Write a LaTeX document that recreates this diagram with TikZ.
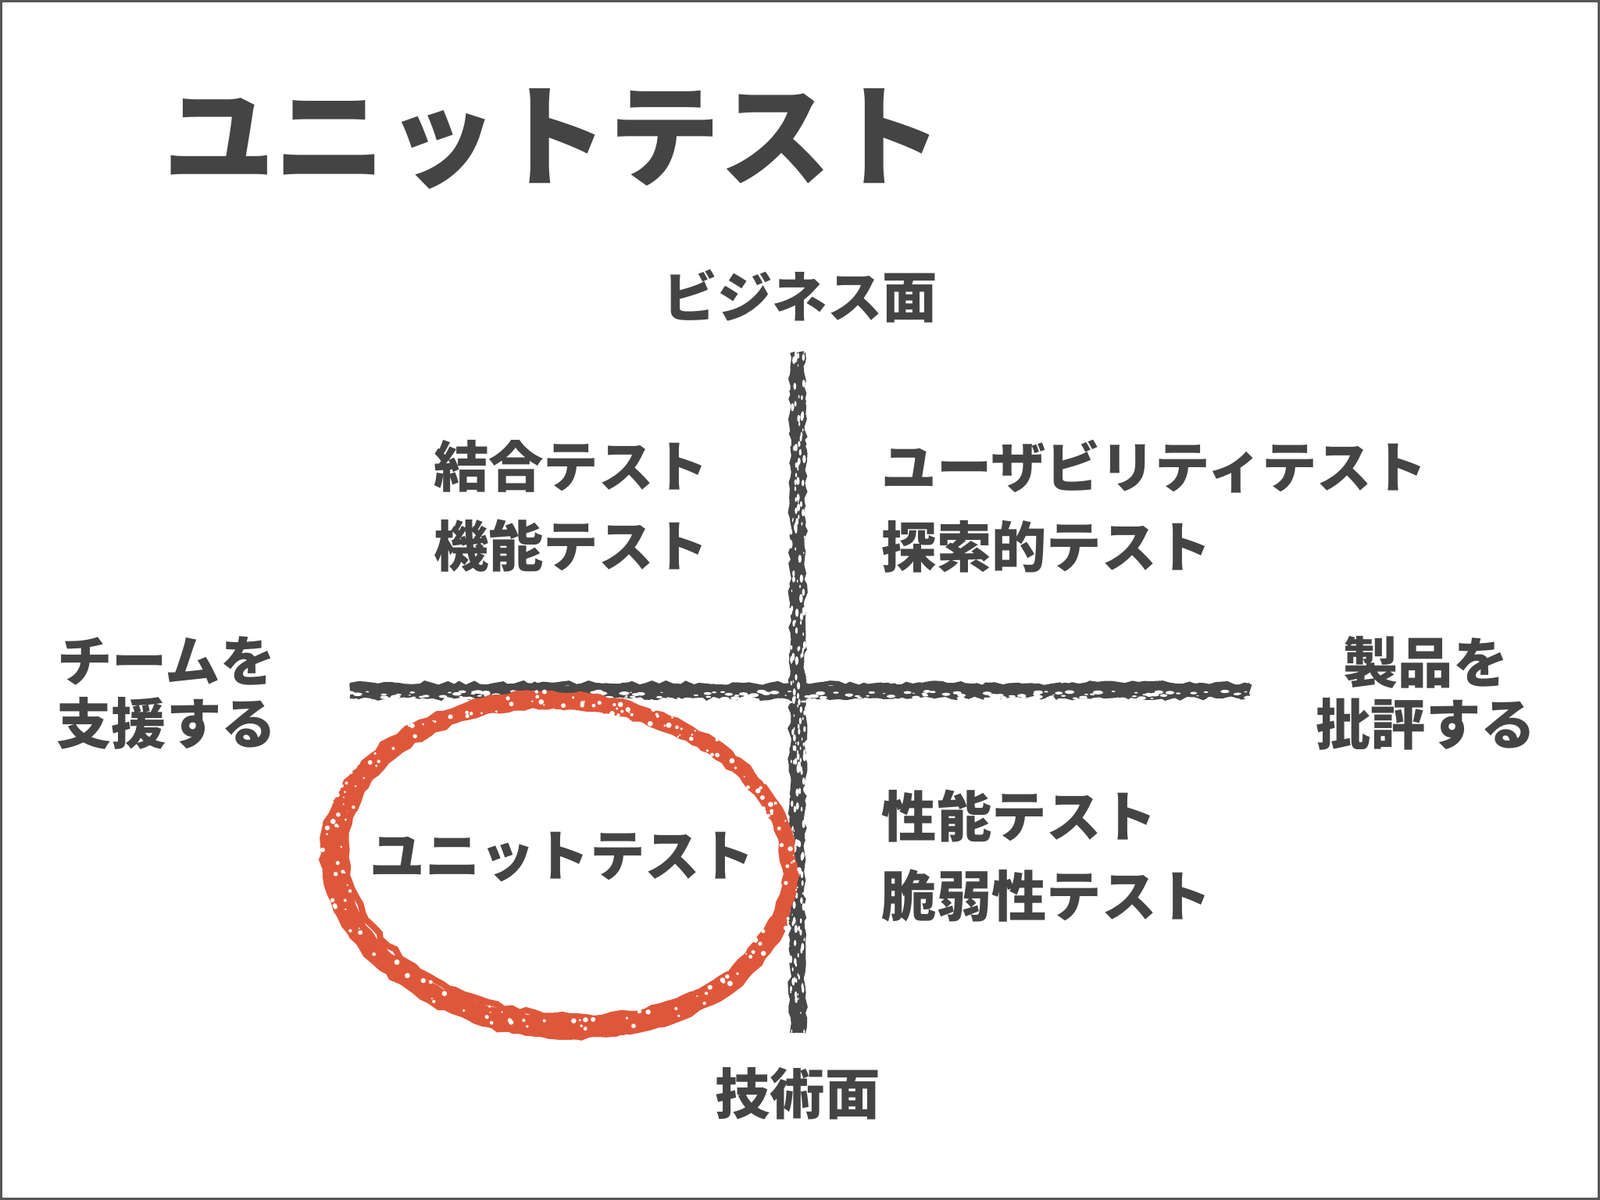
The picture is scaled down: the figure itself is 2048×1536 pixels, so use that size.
\documentclass[tikz,border=0pt]{standalone}
\usepackage{fontspec}
\newfontfamily\jp{Noto Sans CJK JP}
\usetikzlibrary{decorations.pathmorphing}
\definecolor{ink}{HTML}{444444}
\definecolor{chalk}{HTML}{484848}
\definecolor{redchalk}{HTML}{DF573A}
\definecolor{frame}{HTML}{555555}
\begin{document}
\begin{tikzpicture}[x=0.01cm,y=-0.01cm,
  lbl/.style={font=\jp\bfseries\fontsize{20}{29}\selectfont, text=ink, inner sep=0pt},
  side/.style={font=\jp\bfseries\fontsize{20}{22.5}\selectfont, text=ink, inner sep=0pt, align=center},
  ttl/.style={font=\jp\bfseries\fontsize{40.5}{44}\selectfont, text=ink, inner sep=0pt},
  chalkstroke/.style={chalk, line cap=butt, decorate, decoration={random steps, segment length=2.5pt, amplitude=0.8pt}},
  redstroke/.style={redchalk, line cap=round, decorate, decoration={random steps, segment length=3pt, amplitude=0.7pt}}]
\useasboundingbox (0,0) rectangle (2048,1536);
\fill[white] (0,0) rectangle (2048,1536);
\draw[frame, line width=0.03cm] (1.5,1.5) rectangle (2046.5,1534.5);

% title
\node[ttl] (title) at (708,178) {ユニットテスト};

% axis labels
\node[lbl] (biz) at (1024,379) {ビジネス面};
\node[lbl] (tech) at (1021,1400) {技術面};
\node[side] (team) at (213,887) {チームを\\支援する};
\node[side] (prod) at (1825,887) {製品を\\批評する};

% quadrant labels
\node[lbl, align=center] (q1) at (731,648) {結合テスト\\機能テスト};
\node[lbl, align=left, anchor=west] (q2) at (1128,648) {ユーザビリティテスト\\探索的テスト};
\node[lbl, align=left, anchor=west] (q3) at (1128,1096) {性能テスト\\脆弱性テスト};

% axes
\coordinate (vt) at (1021,451);
\coordinate (vb) at (1021,1322);
\coordinate (hl) at (448,884);
\coordinate (hr) at (1600,884);

\draw[chalkstroke, line width=0.16cm] (hl) -- (hr);
\draw[chalkstroke, line width=0.06cm] ([yshift=0.07cm]hl) -- ([yshift=0.07cm]hr);
\draw[chalkstroke, line width=0.06cm] ([yshift=-0.07cm]hl) -- ([yshift=-0.07cm]hr);
\draw[chalkstroke, line width=0.16cm] (vt) -- (vb);
\draw[chalkstroke, line width=0.06cm] ([xshift=0.07cm]vt) -- ([xshift=0.07cm]vb);
\draw[chalkstroke, line width=0.06cm] ([xshift=-0.07cm]vt) -- ([xshift=-0.07cm]vb);

\pgfmathsetseed{7}
\foreach \i in {1,...,240}{
  \pgfmathsetmacro\px{448+1152*rnd}
  \pgfmathsetmacro\py{884+5+14*(rnd-0.3)}
  \pgfmathsetmacro\rr{0.3+0.9*rnd}
  \fill[white] (\px,\py) ellipse[x radius=1.6*\rr pt, y radius=0.6*\rr pt];
}
\foreach \i in {1,...,200}{
  \pgfmathsetmacro\py{451+871*rnd}
  \pgfmathsetmacro\px{1021+18*(rnd-0.5)}
  \pgfmathsetmacro\rr{0.3+0.8*rnd}
  \fill[white] (\px,\py) ellipse[x radius=0.6*\rr pt, y radius=1.5*\rr pt];
}

% red hand-drawn ellipse
\begin{scope}[shift={(718,1104)}, rotate=-5]
  \draw[redstroke, line width=0.20cm] (0,0) ellipse[x radius=2.93cm, y radius=2.08cm];
  \draw[redstroke, line width=0.10cm] (0.05cm,-0.05cm) ellipse[x radius=2.86cm, y radius=2.14cm];
  \draw[redstroke, line width=0.09cm] (-0.04cm,-0.03cm) ellipse[x radius=3.0cm, y radius=2.04cm];
  \draw[redstroke, line width=0.08cm] (0.08cm,0.03cm) ellipse[x radius=2.84cm, y radius=1.99cm];
  \draw[redstroke, line width=0.26cm] ({2.92*cos(195)*1cm},{2.12*sin(195)*1cm}) arc[start angle=195, end angle=345, x radius=2.92cm, y radius=2.12cm];
  \draw[redstroke, line width=0.12cm] ({2.98*cos(150)*1cm},{2.06*sin(150)*1cm}) arc[start angle=150, end angle=215, x radius=2.98cm, y radius=2.06cm];
  \draw[redstroke, line width=0.10cm] ({2.95*cos(-40)*1cm},{2.1*sin(-40)*1cm}) arc[start angle=-40, end angle=25, x radius=2.95cm, y radius=2.1cm];
  \foreach \i in {1,...,180}{
    \pgfmathsetmacro\th{360*rnd}
    \pgfmathsetmacro\rf{1+0.10*(rnd-0.5)}
    \pgfmathsetmacro\rr{0.3+0.7*rnd}
    \fill[white] ({2.93*\rf*cos(\th)*1cm},{2.08*\rf*sin(\th)*1cm}) circle[radius=\rr pt];
  }
\end{scope}

\node[lbl] (unit) at (720,1097) {ユニットテスト};
\end{tikzpicture}
\end{document}
